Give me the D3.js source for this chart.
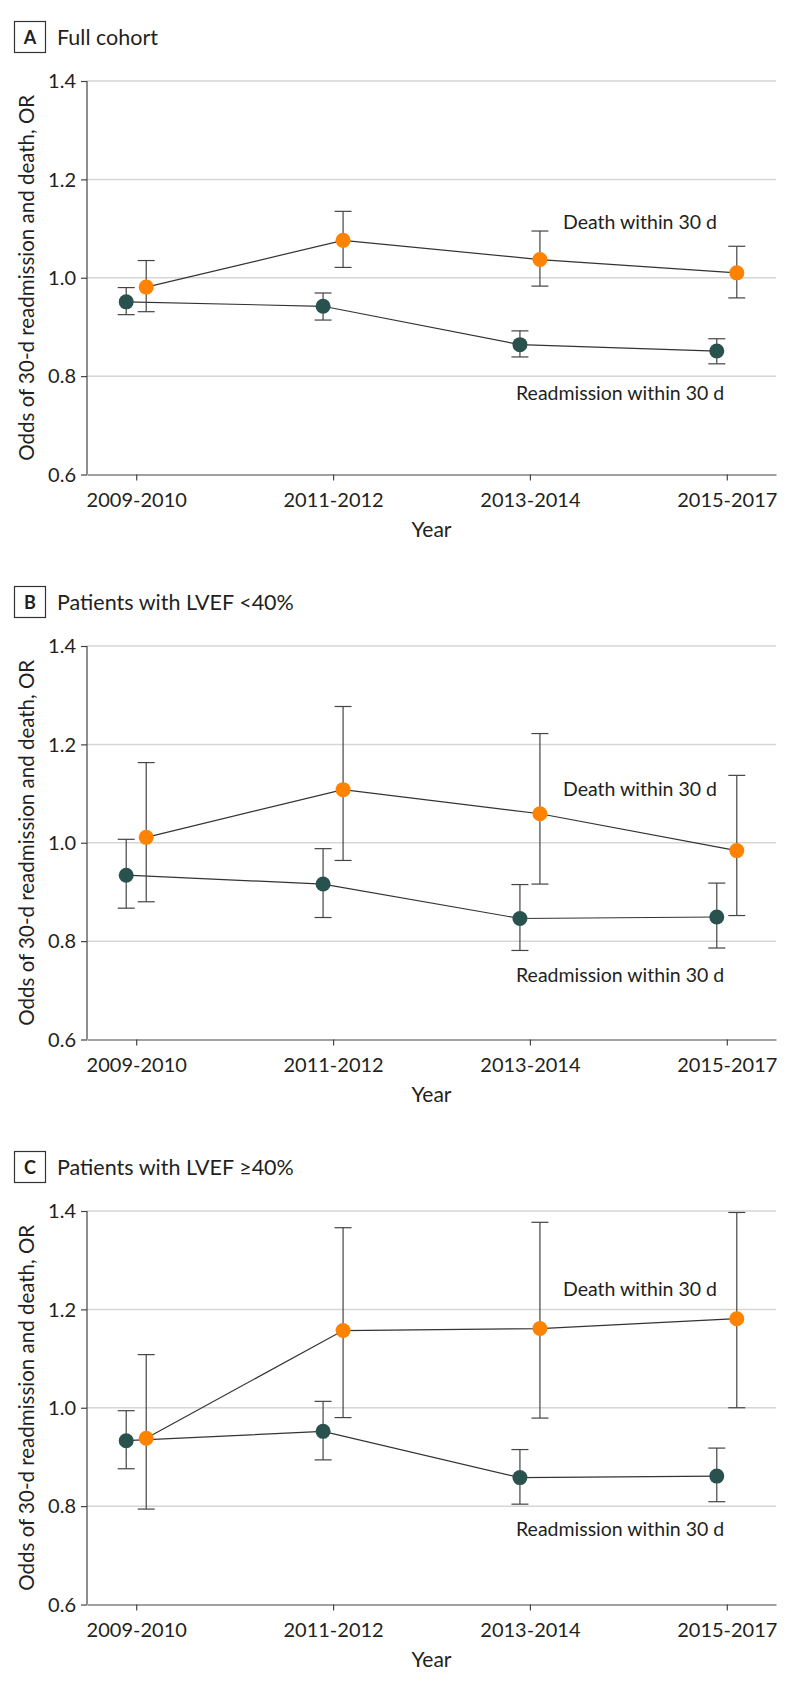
<!DOCTYPE html>
<html>
<head>
<meta charset="utf-8">
<script src="https://cdn.jsdelivr.net/npm/d3@7"></script>
<style>
  body { margin: 0; background: #fff; }
  svg text { font-family: Lato, "Open Sans", sans-serif; fill: #231f20; }
</style>
</head>
<body>
<div id="chart"></div>
<script>
// Категории и подписи
const years = ['2009-2010', '2011-2012', '2013-2014', '2015-2017'];
const panelLetters = ['A', 'B', 'C'];
const panelTitles = ['Full cohort', 'Patients with LVEF <40%', 'Patients with LVEF \u226540%'];
const yTicks = [0.6, 0.8, 1.0, 1.2, 1.4];

// Повторная госпитализация (OR и 95% ДИ), по панелям
const readmitOR   = [[0.951, 0.942, 0.864, 0.851], [0.934, 0.916, 0.846, 0.849], [0.933, 0.952, 0.858, 0.861]];
const readmitLow  = [[0.925, 0.914, 0.839, 0.825], [0.867, 0.848, 0.781, 0.786], [0.876, 0.894, 0.804, 0.809]];
const readmitHigh = [[0.980, 0.969, 0.892, 0.876], [1.007, 0.988, 0.915, 0.918], [0.994, 1.013, 0.915, 0.918]];

// Смерть в течение 30 дней
const deathOR   = [[0.981, 1.076, 1.037, 1.010], [1.011, 1.108, 1.059, 0.984], [0.938, 1.157, 1.161, 1.181]];
const deathLow  = [[0.931, 1.021, 0.983, 0.959], [0.880, 0.964, 0.916, 0.852], [0.794, 0.980, 0.979, 1.000]];
const deathHigh = [[1.035, 1.135, 1.095, 1.064], [1.163, 1.277, 1.222, 1.137], [1.108, 1.366, 1.377, 1.397]];

// Где стоят подписи серий (в единицах OR)
const deathLabelAt   = [1.099, 1.095, 1.227];
const readmitLabelAt = [0.751, 0.716, 0.739];

const width = 794, height = 1689;
const panelStep = 565;
const plotLeft = 87, plotRight = 776, plotTop = 81, plotBottom = 474.5;
const shift = 10;   // смещение серий от тика

const orange = '#ff8200';
const teal = '#29524f';

let svg = d3.select('#chart')
  .append('svg')
  .attr('width', width)
  .attr('height', height);

let x = d3.scalePoint()
  .domain(years)
  .range([plotLeft, plotRight])
  .padding(0.25);

let y = d3.scaleLinear()
  .domain([0.6, 1.4])
  .range([plotBottom, plotTop]);

panelLetters.forEach((letter, p) => {
  let g = svg.append('g').attr('transform', `translate(0, ${p * panelStep})`);

  // Заголовок панели
  g.append('rect')
    .attr('x', 14.5).attr('y', 21.5)
    .attr('width', 31).attr('height', 31)
    .attr('fill', 'none')
    .attr('stroke', '#333')
    .attr('stroke-width', 1.2);

  g.append('text')
    .attr('x', 30).attr('y', 43.5)
    .attr('text-anchor', 'middle')
    .style('font-size', '18px')
    .style('font-weight', 'bold')
    .text(letter);

  g.append('text')
    .attr('x', 57).attr('y', 45)
    .style('font-size', '21.5px')
    .text(panelTitles[p]);

  // Сетка
  g.selectAll('line.grid')
    .data(yTicks.filter(t => t > 0.6))
    .enter()
    .append('line')
    .attr('class', 'grid')
    .attr('x1', plotLeft).attr('x2', plotRight)
    .attr('y1', d => y(d)).attr('y2', d => y(d))
    .attr('stroke', '#d6d6d6')
    .attr('stroke-width', 1.5);

  // Оси
  let yAxis = d3.axisLeft(y)
    .tickValues(yTicks)
    .tickFormat(d3.format('.1f'))
    .tickSize(6)
    .tickPadding(5);

  let yg = g.append('g')
    .attr('transform', `translate(${plotLeft}, 0)`)
    .call(yAxis);

  let xAxis = d3.axisBottom(x)
    .tickSize(6)
    .tickPadding(8)
    .tickSizeOuter(0);

  let xg = g.append('g')
    .attr('transform', `translate(0, ${plotBottom})`)
    .call(xAxis);

  [yg, xg].forEach(ax => {
    ax.select('.domain').attr('stroke', '#444').attr('stroke-width', 1.2);
    ax.selectAll('.tick line').attr('stroke', '#444').attr('stroke-width', 1.2);
    ax.selectAll('.tick text')
      .style('font-size', '20px')
      .style('font-family', 'Lato, sans-serif')
      .attr('fill', '#231f20');
  });
  yg.select('.domain').attr('d', `M0,${plotTop}V${plotBottom}`);
  yg.selectAll('.tick text').attr('dy', '0.34em');
  xg.selectAll('.tick text').attr('dy', '0.92em');

  // Подписи осей
  g.append('text')
    .attr('transform', `translate(34, ${(plotTop + plotBottom) / 2}) rotate(-90)`)
    .attr('text-anchor', 'middle')
    .style('font-size', '20.5px')
    .text('Odds of 30-d readmission and death, OR');

  g.append('text')
    .attr('x', (plotLeft + plotRight) / 2)
    .attr('y', plotBottom + 62)
    .attr('text-anchor', 'middle')
    .style('font-size', '21px')
    .text('Year');

  // Серии
  let series = [
    { or: readmitOR[p], lo: readmitLow[p], hi: readmitHigh[p], dx: -shift, color: teal },
    { or: deathOR[p], lo: deathLow[p], hi: deathHigh[p], dx: shift, color: orange }
  ];

  let line = d3.line()
    .x(d => x(d.year) + d.dx)
    .y(d => y(d.v));

  series.forEach(s => {
    let pts = years.map((yr, i) => ({ year: yr, v: s.or[i], lo: s.lo[i], hi: s.hi[i], dx: s.dx }));

    g.append('path')
      .datum(pts)
      .attr('fill', 'none')
      .attr('stroke', '#333')
      .attr('stroke-width', 1.2)
      .attr('d', line);

    s.pts = pts;
  });

  series.forEach(s => {
    let eb = g.append('g');
    s.pts.forEach(d => {
      let cx = x(d.year) + d.dx;
      eb.append('line')
        .attr('x1', cx).attr('x2', cx)
        .attr('y1', y(d.lo)).attr('y2', y(d.hi))
        .attr('stroke', '#444').attr('stroke-width', 1.2);
      [d.lo, d.hi].forEach(v => {
        eb.append('line')
          .attr('x1', cx - 8.5).attr('x2', cx + 8.5)
          .attr('y1', y(v)).attr('y2', y(v))
          .attr('stroke', '#444').attr('stroke-width', 1.2);
      });
    });
  });

  series.forEach(s => {
    g.selectAll(null)
      .data(s.pts)
      .enter()
      .append('circle')
      .attr('cx', d => x(d.year) + d.dx)
      .attr('cy', d => y(d.v))
      .attr('r', 7.5)
      .attr('fill', s.color);
  });

  // Подписи серий
  g.append('text')
    .attr('x', 563)
    .attr('y', y(deathLabelAt[p]))
    .style('font-size', '19.5px')
    .text('Death within 30 d');

  g.append('text')
    .attr('x', 516)
    .attr('y', y(readmitLabelAt[p]))
    .style('font-size', '19.5px')
    .text('Readmission within 30 d');
});
</script>
</body>
</html>
